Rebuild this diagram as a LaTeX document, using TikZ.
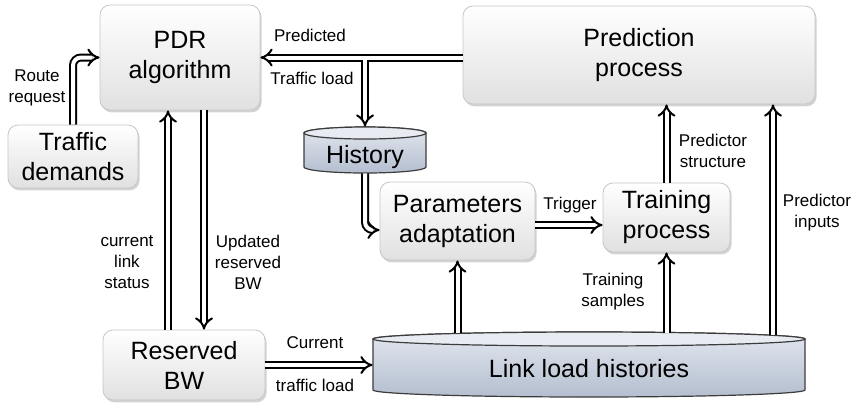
\documentclass[tikz,border=0pt]{standalone}
\usepackage{fontspec}
\setmainfont{Liberation Sans}
\usetikzlibrary{arrows.meta,shadows,calc}
\definecolor{cylTop}{RGB}{232,236,242}
\definecolor{cylBodyA}{RGB}{226,231,239}
\definecolor{cylBodyB}{RGB}{180,190,207}
\definecolor{cylEdge}{RGB}{60,60,60}
\begin{document}
\begin{tikzpicture}[x=0.5pt,y=-0.5pt,
 box/.style={rectangle, rounded corners=5pt, draw=gray!45, line width=0.4pt, top color=white, bottom color=gray!24,
   drop shadow={shadow xshift=0.8pt, shadow yshift=-1.2pt, opacity=0.35, fill=gray},
   align=center, font=\fontsize{12.5}{15}\selectfont, inner sep=0pt},
 maintxt/.style={align=center, font=\fontsize{12.5}{15}\selectfont, inner sep=0pt},
 lbl/.style={align=center, font=\fontsize{8.5}{10.5}\selectfont, inner sep=0pt},
 dbl/.style={draw=black, line width=1pt, double=white, double distance=2pt, -{Implies[scale=1.2]}},
 cylbody/.style={draw=cylEdge, line width=0.6pt, top color=cylBodyA, bottom color=cylBodyB},
 cyltop/.style={draw=cylEdge, line width=0.6pt, fill=cylTop},
]
\useasboundingbox (0,0) rectangle (856,404);

% boxes
\node[box, minimum width=80pt, minimum height=52.5pt] (pdr) at (180,57.5) {PDR\\algorithm};
\node[box, minimum width=65pt, minimum height=31.5pt] (td) at (73,156.5) {Traffic\\demands};
\node[box, minimum width=81pt, minimum height=35pt] (rb) at (184,365) {Reserved\\BW};
\node[box, minimum width=176pt, minimum height=49pt] (pred) at (639,55) {Prediction\\process};
\node[box, minimum width=77.5pt, minimum height=39pt] (par) at (457.5,221) {Parameters\\adaptation};
\node[box, minimum width=63.5pt, minimum height=34.5pt] (tr) at (666.5,217.5) {Training\\process};

% History cylinder
\path[cylbody] (304,133) -- (304,167) arc[start angle=180,end angle=360,x radius=30.5pt,y radius=3pt]
  -- (426,133) arc[start angle=0,end angle=180,x radius=30.5pt,y radius=3pt] -- cycle;
\path[cyltop] (365,133) ellipse[x radius=30.5pt,y radius=3pt];
\node[minimum width=61pt, minimum height=23pt, inner sep=0pt] (hist) at (365,150) {};
\node[maintxt] (histtxt) at (365,157) {History};

% Link load histories cylinder
\path[cylbody] (373,339) -- (373,390) arc[start angle=180,end angle=360,x radius=108pt,y radius=3.5pt]
  -- (805,339) arc[start angle=0,end angle=180,x radius=108pt,y radius=3.5pt] -- cycle;
\path[cyltop] (589,339) ellipse[x radius=108pt,y radius=3.5pt];
\node[minimum width=216pt, minimum height=32.5pt, inner sep=0pt] (ll) at (589,364.5) {};
\node[maintxt] (lltxt) at (589,369) {Link load histories};

% connectors
\coordinate (cx1) at (168,0);
\coordinate (cx2) at (204,0);
\coordinate (pix) at (773,0);
\coordinate (br) at (365,57.5);

\draw[dbl, rounded corners=4pt] (td.north) |- (pdr.west);
\draw[dbl] (br) -- (hist.north);
\draw[dbl] (pred.west |- pdr.east) -- (pdr.east);
\draw[white, line width=2pt] (br) -- ++(0,12);
\draw[dbl, rounded corners=4pt] (hist.south) |- ($(par.west)+(0,9)$);
\draw[dbl] ($(par.east)+(0,4)$) -- ($(tr.west)+(0,7.5)$);
\draw[dbl] ($(par.south |- ll.north)+(0,1)$) -- (par.south);
\draw[dbl] ($(tr.south |- ll.north)+(0,1)$) -- (tr.south);
\draw[dbl] (tr.north) -- (tr.north |- pred.south);
\draw[dbl] ($(ll.north -| pix)+(0,3)$) -- (pred.south -| pix);
\draw[dbl] (rb.east) -- (rb.east -| ll.west);
\draw[dbl] (rb.north -| cx1) -- (pdr.south -| cx1);
\draw[dbl] (pdr.south -| cx2) -- (rb.north -| cx2);

% labels
\node[lbl] (l1) at (37,88) {Route\\request};
\node[lbl] (l2) at (310,35) {Predicted};
\node[lbl] (l3) at (312,78) {Traffic load};
\node[lbl] (l4) at (127,262) {current\\link\\status};
\node[lbl] (l5) at (248,262) {Updated\\reserved\\BW};
\node[lbl] (l6) at (315,343) {Current};
\node[lbl] (l7) at (315,385) {traffic load};
\node[lbl] (l8) at (570,205) {Trigger};
\node[lbl] (l9) at (613,292) {Training\\samples};
\node[lbl] (l10) at (713,151) {Predictor\\structure};
\node[lbl] (l11) at (817,213) {Predictor\\inputs};
\end{tikzpicture}
\end{document}
